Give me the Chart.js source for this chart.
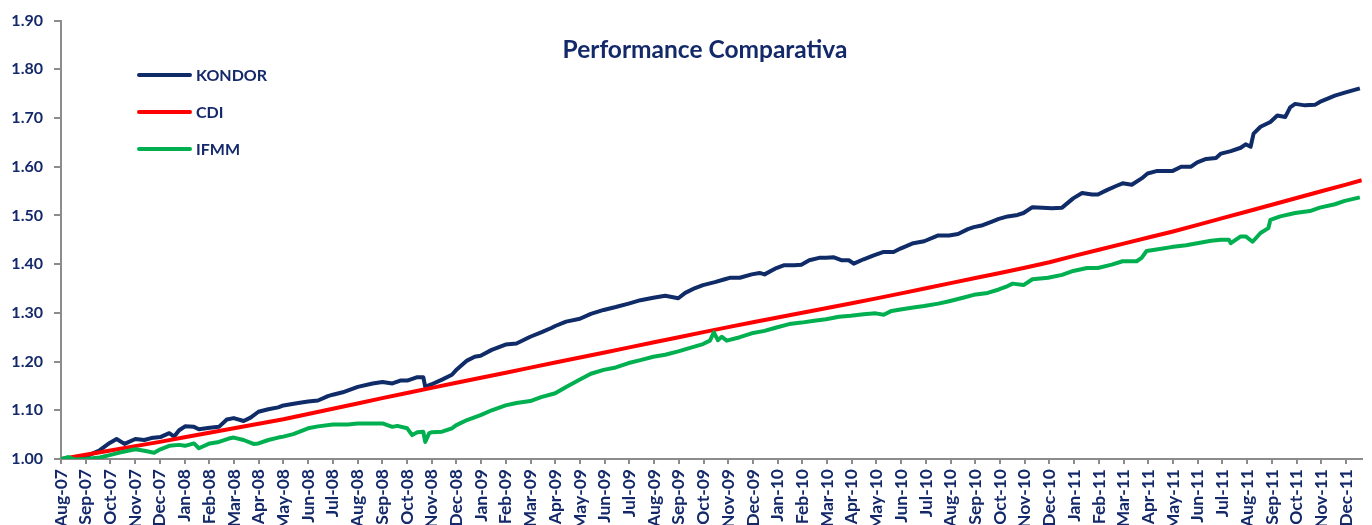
<!DOCTYPE html>
<html>
<head>
<meta charset="utf-8">
<title>Performance Comparativa</title>
<script src="https://cdn.jsdelivr.net/npm/chart.js@4/dist/chart.umd.min.js"></script>
<style>
  html, body { margin: 0; padding: 0; background: #fff; overflow: hidden; }
  #wrap { position: relative; width: 1372px; height: 525px; }
</style>
</head>
<body>
<div id="wrap"><canvas id="chart"></canvas></div>
<script>
// tick labels (one per month, Aug-07 .. Dec-11)
const monthLabels = [
  'Aug-07','Sep-07','Oct-07','Nov-07','Dec-07',
  'Jan-08','Feb-08','Mar-08','Apr-08','May-08','Jun-08','Jul-08','Aug-08','Sep-08','Oct-08','Nov-08','Dec-08',
  'Jan-09','Feb-09','Mar-09','Apr-09','May-09','Jun-09','Jul-09','Aug-09','Sep-09','Oct-09','Nov-09','Dec-09',
  'Jan-10','Feb-10','Mar-10','Apr-10','May-10','Jun-10','Jul-10','Aug-10','Sep-10','Oct-10','Nov-10','Dec-10',
  'Jan-11','Feb-11','Mar-11','Apr-11','May-11','Jun-11','Jul-11','Aug-11','Sep-11','Oct-11','Nov-11','Dec-11'
];
const seriesNames = ['KONDOR', 'CDI', 'IFMM'];

// KONDOR - position in months since Aug-07, and value
const kondorX = [
  0, 0.28, 0.56, 1.00, 1.57, 1.97, 2.25, 2.57, 3.01, 3.37, 3.65, 4.02, 4.38, 4.58, 4.78, 5.02, 5.38, 5.58,
  6.02, 6.39, 6.71, 6.99, 7.39, 7.67, 7.99, 8.39, 8.79, 9.00, 9.60, 10.00, 10.40, 10.80, 11.00, 11.40,
  12.01, 12.61, 13.01, 13.41, 13.73, 14.01, 14.42, 14.66, 14.74, 14.98, 15.42, 15.82, 15.98, 16.43, 16.74,
  16.98, 17.43, 17.99, 18.43, 18.99, 19.43, 19.84, 20.00, 20.44, 21.00, 21.44, 21.96, 22.45, 22.97, 23.45,
  23.97, 24.45, 24.98, 25.26, 25.66, 25.98, 26.46, 26.86, 27.06, 27.47, 27.95, 28.27, 28.47, 28.95, 29.27,
  29.67, 29.96, 30.28, 30.68, 30.96, 31.28, 31.60, 31.88, 32.08, 32.48, 32.89, 33.29, 33.69, 33.97, 34.49,
  34.93, 35.50, 35.94, 36.30, 36.70, 36.94, 37.30, 37.70, 37.95, 38.31, 38.71, 38.95, 39.31, 39.71, 40.11,
  40.51, 40.96, 41.32, 41.72, 41.96, 42.32, 42.72, 42.96, 43.33, 43.73, 43.97, 44.33, 44.73, 44.97, 45.33,
  45.73, 45.98, 46.34, 46.74, 46.94, 47.34, 47.74, 47.94, 48.14, 48.26, 48.54, 48.94, 49.22, 49.54, 49.74,
  49.94, 50.34, 50.74, 50.94, 51.55, 51.95, 52.56
];
const kondorValues = [
  1.000, 0.999, 0.998, 1.005, 1.018, 1.033, 1.041, 1.031, 1.041, 1.039, 1.043, 1.045, 1.053, 1.046, 1.059, 1.067, 1.066, 1.061,
  1.064, 1.066, 1.081, 1.084, 1.078, 1.085, 1.097, 1.102, 1.106, 1.110, 1.115, 1.118, 1.120, 1.129, 1.132, 1.137,
  1.148, 1.155, 1.158, 1.155, 1.161, 1.161, 1.168, 1.168, 1.148, 1.153, 1.163, 1.173, 1.182, 1.202, 1.210,
  1.212, 1.224, 1.235, 1.237, 1.251, 1.260, 1.269, 1.273, 1.282, 1.288, 1.298, 1.306, 1.312, 1.319, 1.326,
  1.331, 1.335, 1.330, 1.341, 1.351, 1.357, 1.363, 1.369, 1.372, 1.372, 1.379, 1.382, 1.379, 1.392, 1.398,
  1.398, 1.399, 1.408, 1.413, 1.413, 1.414, 1.408, 1.408, 1.401, 1.410, 1.418, 1.425, 1.425, 1.432, 1.443,
  1.447, 1.459, 1.459, 1.462, 1.472, 1.476, 1.480, 1.488, 1.493, 1.498, 1.501, 1.505, 1.517, 1.516, 1.515,
  1.516, 1.535, 1.546, 1.543, 1.543, 1.552, 1.561, 1.566, 1.563, 1.576, 1.586, 1.591, 1.591, 1.591, 1.600,
  1.600, 1.609, 1.616, 1.618, 1.627, 1.632, 1.639, 1.646, 1.641, 1.668, 1.682, 1.692, 1.705, 1.702, 1.722,
  1.729, 1.726, 1.727, 1.733, 1.746, 1.752, 1.761
];

// CDI - month by month
const cdiX = [
  0, 1, 2, 3, 4, 5, 6, 7, 8, 9, 10, 11, 12, 13, 14, 15, 16, 17, 18, 19, 20, 21, 22, 23, 24, 25, 26,
  27, 28, 29, 30, 31, 32, 33, 34, 35, 36, 37, 38, 39, 40, 41, 42, 43, 44, 45, 46, 47, 48, 49, 50, 51, 52, 52.64
];
const cdiValues = [
  1.0000, 1.0088, 1.0176, 1.0264, 1.0352, 1.0445, 1.0538, 1.0631, 1.0724, 1.0817, 1.0925, 1.1033, 1.1141,
  1.1249, 1.1355, 1.1460, 1.1564, 1.1668, 1.1772, 1.1876, 1.1980, 1.2084, 1.2188, 1.2292, 1.2396, 1.2500,
  1.2604, 1.2708, 1.2806, 1.2905, 1.3003, 1.3101, 1.3199, 1.3297, 1.3400, 1.3505, 1.3610, 1.3715, 1.3820,
  1.3925, 1.4040, 1.4171, 1.4296, 1.4421, 1.4546, 1.4671, 1.4806, 1.4944, 1.5082, 1.5220, 1.5358, 1.5496,
  1.5634, 1.5722
];

// IFMM
const ifmmX = [
  0, 0.28, 0.56, 1.00, 1.57, 1.97, 2.37, 3.01, 3.37, 3.77, 4.02, 4.38, 4.78, 5.02, 5.38, 5.58, 6.02, 6.39,
  6.79, 6.99, 7.39, 7.79, 7.99, 8.39, 8.79, 9.00, 9.40, 10.00, 10.40, 11.00, 11.60, 12.01, 12.41, 13.01,
  13.41, 13.61, 14.01, 14.21, 14.42, 14.66, 14.74, 14.90, 15.02, 15.42, 15.82, 15.98, 16.43, 16.98, 17.43,
  17.99, 18.43, 18.99, 19.43, 20.00, 20.44, 21.00, 21.44, 21.96, 22.45, 22.97, 23.45, 23.97, 24.45, 24.98,
  25.46, 25.98, 26.26, 26.42, 26.58, 26.74, 26.94, 27.47, 27.95, 28.47, 28.95, 29.47, 29.96, 30.48, 30.96,
  31.48, 31.96, 32.48, 32.97, 33.29, 33.61, 33.97, 34.49, 34.93, 35.50, 35.94, 36.50, 36.94, 37.50, 37.95,
  38.31, 38.51, 38.95, 39.31, 39.95, 40.51, 40.96, 41.52, 41.96, 42.52, 42.96, 43.53, 43.73, 43.93, 44.33,
  44.93, 45.53, 45.98, 46.54, 46.94, 47.26, 47.34, 47.74, 47.94, 48.22, 48.54, 48.86, 48.94, 49.34, 49.94,
  50.54, 50.94, 51.55, 51.95, 52.56
];
const ifmmValues = [
  1.000, 1.004, 0.999, 1.000, 1.003, 1.008, 1.013, 1.020, 1.017, 1.013, 1.020, 1.027, 1.029, 1.027, 1.032, 1.022, 1.032, 1.035,
  1.042, 1.044, 1.039, 1.031, 1.032, 1.039, 1.044, 1.046, 1.051, 1.063, 1.067, 1.071, 1.071, 1.073, 1.073, 1.073,
  1.066, 1.068, 1.063, 1.049, 1.055, 1.056, 1.035, 1.053, 1.055, 1.056, 1.063, 1.069, 1.080, 1.090, 1.100,
  1.110, 1.115, 1.119, 1.127, 1.135, 1.148, 1.163, 1.175, 1.183, 1.188, 1.197, 1.203, 1.210, 1.214, 1.221,
  1.228, 1.236, 1.243, 1.260, 1.244, 1.251, 1.243, 1.250, 1.258, 1.263, 1.270, 1.277, 1.280, 1.284, 1.287,
  1.292, 1.294, 1.297, 1.299, 1.296, 1.304, 1.307, 1.311, 1.314, 1.319, 1.324, 1.331, 1.337, 1.341, 1.348,
  1.355, 1.360, 1.357, 1.369, 1.372, 1.378, 1.386, 1.392, 1.392, 1.399, 1.406, 1.406, 1.413, 1.427, 1.430,
  1.435, 1.439, 1.443, 1.448, 1.450, 1.450, 1.443, 1.457, 1.457, 1.446, 1.464, 1.474, 1.491, 1.498, 1.505,
  1.509, 1.516, 1.523, 1.530, 1.537
];

const NAVY = '#0f2b68';
const TEXT = '#13296a';
const AXIS = '#8c8c8c';
const FONT = 'Lato, "Open Sans", sans-serif';

function toPoints(xs, ys) {
  return xs.map((x, i) => ({ x: x, y: ys[i] }));
}

// título e legenda desenhados dentro da área do gráfico
const overlay = {
  id: 'overlay',
  afterDraw(chart) {
    const ctx = chart.ctx;
    ctx.save();
    ctx.fillStyle = TEXT;
    ctx.font = 'bold 24.5px ' + FONT;
    ctx.textAlign = 'center';
    ctx.textBaseline = 'alphabetic';
    ctx.fillText('Performance Comparativa', 705, 58);

    ctx.font = 'bold 16px ' + FONT;
    ctx.textAlign = 'left';
    ctx.textBaseline = 'middle';
    chart.data.datasets.forEach((ds, i) => {
      const y = 75 + i * 37;
      ctx.strokeStyle = ds.borderColor;
      ctx.lineWidth = 4;
      ctx.lineCap = 'round';
      ctx.beginPath();
      ctx.moveTo(139, y);
      ctx.lineTo(190, y);
      ctx.stroke();
      ctx.fillText(ds.label, 196, y + 1);
    });
    ctx.restore();
  }
};

new Chart(document.getElementById('chart'), {
  type: 'line',
  data: {
    datasets: [
      { label: seriesNames[0], data: toPoints(kondorX, kondorValues), borderColor: NAVY, order: 2 },
      { label: seriesNames[1], data: toPoints(cdiX, cdiValues), borderColor: '#ff0000', order: 1 },
      { label: seriesNames[2], data: toPoints(ifmmX, ifmmValues), borderColor: '#00b050', order: 0 }
    ]
  },
  options: {
    responsive: true,
    maintainAspectRatio: false,
    animation: false,
    layout: { padding: { top: 19, right: 0, bottom: 0, left: 0 } },
    elements: {
      line: { borderWidth: 4, tension: 0, borderJoinStyle: 'round', fill: false },
      point: { radius: 0 }
    },
    plugins: {
      legend: { display: false },
      tooltip: { enabled: false },
      title: { display: false }
    },
    scales: {
      x: {
        type: 'linear',
        min: 0,
        max: 52.64,
        grid: { drawOnChartArea: false, color: AXIS, tickLength: 5, lineWidth: 2 },
        border: { color: AXIS, width: 2 },
        afterBuildTicks(scale) { scale.ticks = monthLabels.map((_, i) => ({ value: i })); },
        afterFit(scale) { scale.height = 66; },
        ticks: {
          autoSkip: false,
          minRotation: 90,
          maxRotation: 90,
          padding: 5,
          color: TEXT,
          font: { family: FONT, size: 17.5, weight: 'bold' },
          callback: (v) => monthLabels[v] || ''
        }
      },
      y: {
        min: 1.0,
        max: 1.9,
        grid: { drawOnChartArea: false, color: AXIS, tickLength: 7, lineWidth: 2 },
        border: { color: AXIS, width: 2 },
        afterFit(scale) { scale.width = 61; },
        ticks: {
          stepSize: 0.1,
          padding: 11,
          color: TEXT,
          font: { family: FONT, size: 16, weight: 'bold' },
          callback: (v) => v.toFixed(2)
        }
      }
    }
  },
  plugins: [overlay]
});
</script>
</body>
</html>
